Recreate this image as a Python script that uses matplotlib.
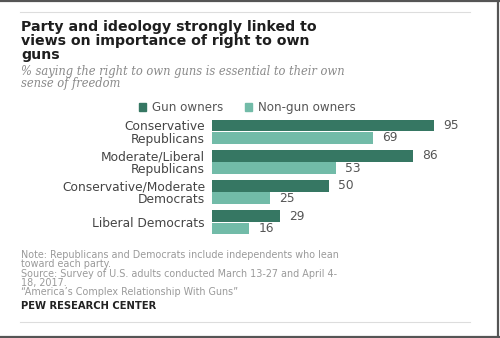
import numpy as np
import matplotlib
matplotlib.use("Agg")
from matplotlib import pyplot as plt
from matplotlib.lines import Line2D
from matplotlib.patches import Patch

# data
groups = ["Conservative\nRepublicans", "Moderate/Liberal\nRepublicans",
          "Conservative/Moderate\nDemocrats", "Liberal Democrats"]
gun_owners = [95, 86, 50, 29]
non_gun_owners = [69, 53, 25, 16]
series_names = ["Gun owners", "Non-gun owners"]

title_lines = ["Party and ideology strongly linked to",
               "views on importance of right to own",
               "guns"]
subtitle_lines = ["% saying the right to own guns is essential to their own",
                  "sense of freedom"]
note_lines = ["Note: Republicans and Democrats include independents who lean",
              "toward each party.",
              "Source: Survey of U.S. adults conducted March 13-27 and April 4-",
              "18, 2017.",
              "\u201cAmerica\u2019s Complex Relationship With Guns\u201d"]
credit = "PEW RESEARCH CENTER"

dark = "#367763"
light = "#72bba8"

W, H = 500, 338
fig = plt.figure(figsize=(W / 100, H / 100), dpi=100)
fig.patch.set_facecolor("white")

def fx(x):
    return x / W

def fy(y):
    return 1 - y / H

# frame around the screenshot and thin rules
fig.add_artist(Line2D([0, 1], [fy(1), fy(1)], color="#555555", lw=1.6))
fig.add_artist(Line2D([fx(498), fx(498)], [0, 1], color="#555555", lw=1.6))
fig.add_artist(Line2D([0, 1], [fy(337), fy(337)], color="#555555", lw=1.6))
fig.add_artist(Line2D([fx(20), fx(470)], [fy(12), fy(12)], color="#dddddd", lw=0.8))
fig.add_artist(Line2D([fx(20), fx(470)], [fy(322), fy(322)], color="#dddddd", lw=0.8))

# title / subtitle
for i, t in enumerate(title_lines):
    fig.text(fx(21), fy(31.5 + i * 13.6), t, fontsize=10.2, fontweight="bold",
             color="#1e1e1e", va="baseline", ha="left")
for i, t in enumerate(subtitle_lines):
    fig.text(fx(21), fy(75 + i * 11.5), t, fontsize=8.3, style="italic",
             family="DejaVu Serif", color="#8a8a8a", va="baseline", ha="left")

# bars
ax = fig.add_axes([fx(212), fy(237.5), (445.7 - 212) / W, (237.5 - 116.5) / H])
ypos = np.arange(len(groups))
off = 0.203
hgt = 0.385
b1 = ax.barh(ypos - off, gun_owners, height=hgt, color=dark)
b2 = ax.barh(ypos + off, non_gun_owners, height=hgt, color=light)
ax.set_xlim(0, 100)
ax.set_ylim(3.5, -0.5)
ax.set_yticks(ypos)
ax.set_yticklabels(groups, fontsize=8.8, color="#444444", linespacing=0.98)
ax.tick_params(axis="y", length=0, pad=5)
ax.set_xticks([])
for s in ax.spines.values():
    s.set_visible(False)

for bars, vals in [(b1, gun_owners), (b2, non_gun_owners)]:
    for r, v in zip(bars, vals):
        ax.annotate(str(v), (v, r.get_y() + r.get_height() / 2),
                    xytext=(6.5, 0), textcoords="offset points",
                    va="center", ha="left", fontsize=8.8, color="#555555",
                    annotation_clip=False)

fig.legend([Patch(color=dark), Patch(color=light)], series_names,
           loc="center", bbox_to_anchor=(fx(247), fy(107.5)), ncol=2,
           frameon=False, fontsize=8.6, labelcolor="#555555",
           handlelength=0.6, handleheight=0.6, handletextpad=0.5,
           columnspacing=1.8, borderpad=0)

# notes
for i, t in enumerate(note_lines):
    fig.text(fx(21), fy(258 + i * 9.3), t, fontsize=6.9, color="#9a9a9a",
             va="baseline", ha="left")
fig.text(fx(21), fy(309.3), credit, fontsize=7.2, fontweight="bold",
         color="#222222", va="baseline", ha="left")

fig.savefig("out.png", dpi=100, facecolor="white")
